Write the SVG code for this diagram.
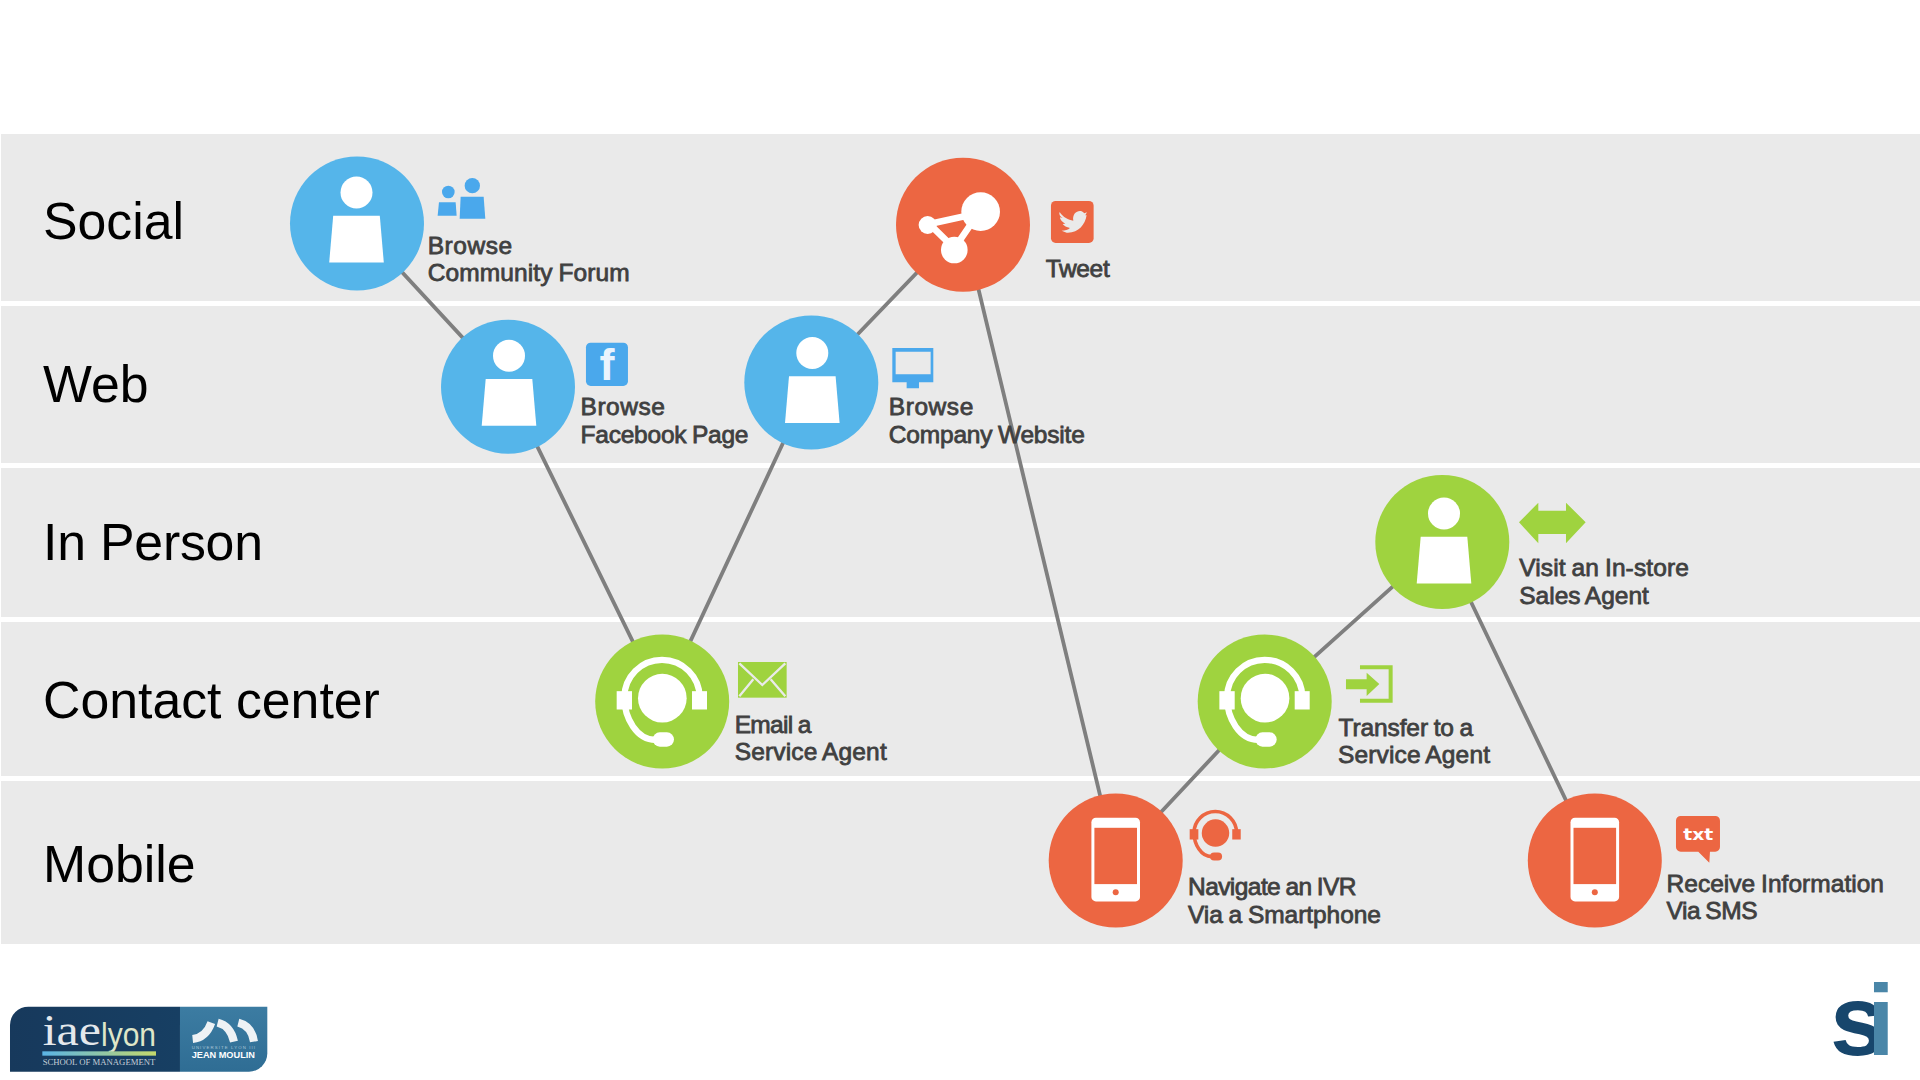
<svg xmlns="http://www.w3.org/2000/svg" width="1920" height="1080" viewBox="0 0 1920 1080">
<style>
.band{fill:#eaeaea}
.title{font-family:"Liberation Sans",Arial,sans-serif;font-size:51.8px;fill:#000}
.lbl{font-family:"Liberation Sans",Arial,sans-serif;font-size:24.5px;fill:#404040;stroke:#404040;stroke-width:.8;word-spacing:-1px}
.blue{fill:#55b5ea}.iblue{fill:#4aa8ec}.green{fill:#9fd33f}.orange{fill:#ec6642}
.conn{fill:none;stroke:#7f7f7f;stroke-width:3.8}
.hs{color:#fff}.hso{color:#ec6642}
</style>
<defs>
<g id="person" fill="#fff"><circle cx="0" cy="-31" r="16"/><path d="M-23.3-7.7H23.3L27.3 39H-27.3Z"/></g>
<g id="headset" transform="scale(.3333)">
<circle cx="1" cy="-10" r="73" fill="currentColor"/>
<path d="M-113-12A113 113 0 0 1 113-12M-113-12C-113 50-75 115-20 115" fill="none" stroke="currentColor" stroke-width="19"/>
<rect x="-136" y="-31" width="46" height="55" fill="currentColor"/><rect x="90" y="-31" width="45" height="55" fill="currentColor"/>
<path d="M-6.5 114H14.5" fill="none" stroke="currentColor" stroke-width="43" stroke-linecap="round"/>
</g>
<g id="phone"><rect x="-24.3" y="-42.7" width="48.6" height="83.6" rx="4.5" fill="#fff"/><rect x="-21.3" y="-32.7" width="42.6" height="56.3" fill="#ec6642"/><circle cx="0" cy="31.8" r="3" fill="#ec6642"/></g>
<linearGradient id="lg1" x1="0" x2="1"><stop offset="0" stop-color="#5ab4e6"/><stop offset="1" stop-color="#c4d96c"/></linearGradient>
<linearGradient id="lg2" x1="0" x2="1" y1="0" y2="0"><stop offset="0" stop-color="#17395c"/><stop offset="1" stop-color="#173f63"/></linearGradient>
<linearGradient id="lg3" x1="0" x2="0" y1="0" y2="1"><stop offset="0" stop-color="#3c7ca2"/><stop offset="1" stop-color="#2f6d94"/></linearGradient>
</defs>
<rect width="1920" height="1080" fill="#fff"/>
<g id="bands">
<rect class="band" x="1" y="134" width="1919" height="167"/>
<rect class="band" x="1" y="306" width="1919" height="157"/>
<rect class="band" x="1" y="468" width="1919" height="149"/>
<rect class="band" x="1" y="622" width="1919" height="154"/>
<rect class="band" x="1" y="781" width="1919" height="163"/>
<text class="title" x="43" y="239">Social</text>
<text class="title" x="43" y="402">Web</text>
<text class="title" x="43" y="560" textLength="220">In Person</text>
<text class="title" x="43" y="718">Contact center</text>
<text class="title" x="43" y="882">Mobile</text>
</g>
<g id="connectors">
<path class="conn" d="M357 223.5L508 386.7L662.2 701.5L811.3 382.5L963 224.7L1115.7 860.5L1264.7 701.5L1442.3 542L1594.8 860.5"/>
</g>
<g id="node-forum">
<circle class="blue" cx="357" cy="223.5" r="67"/><use href="#person" x="356.5" y="223.5"/>
<g transform="translate(270 130) scale(.3333)" class="iblue"><circle cx="535" cy="186" r="19"/><path d="M507 217H557L560 257H503Z"/><circle cx="607" cy="167" r="23"/><path d="M572 200H641L646 266H569Z"/></g>
<text class="lbl" x="427.7" y="253.8" textLength="84.5">Browse</text><text class="lbl" x="427.7" y="281.3" textLength="202">Community Forum</text>
</g>
<g id="node-facebook">
<circle class="blue" cx="508" cy="386.7" r="67"/><use href="#person" x="509" y="386.7"/>
<g transform="translate(270 130) scale(.3333)"><rect class="iblue" x="948" y="638" width="126" height="130" rx="14"/><text x="1011" y="750" text-anchor="middle" font-family="Liberation Sans,Arial,sans-serif" font-weight="bold" font-size="135" fill="#eaf4fd">f</text></g>
<text class="lbl" x="580.5" y="415.2" textLength="84.5">Browse</text><text class="lbl" x="580.5" y="442.8" textLength="168">Facebook Page</text>
</g>
<g id="node-website">
<circle class="blue" cx="811.3" cy="382.5" r="67"/><use href="#person" x="812.3" y="384"/>
<g transform="translate(720 130) scale(.3333)" class="iblue"><path fill-rule="evenodd" d="M517 654H640V757H597V775H560V757H517ZM527 665V733H632V665Z"/></g>
<text class="lbl" x="888.8" y="415.2" textLength="84.5">Browse</text><text class="lbl" x="888.8" y="442.8" textLength="196">Company Website</text>
</g>
<g id="node-tweet">
<circle class="orange" cx="963" cy="224.7" r="67"/>
<g transform="translate(720 130) scale(.3333)">
<g fill="#fff"><circle cx="782" cy="245" r="58"/><circle cx="623" cy="285" r="27"/><circle cx="703" cy="360" r="40"/></g>
<path d="M628 282L775 250L703 355Z" fill="none" stroke="#fff" stroke-width="20"/>
<rect class="orange" x="993" y="213" width="128" height="126" rx="14"/>
<path fill="#eaeaea" d="M1019 246C1030 262 1045 270 1060 272C1056 252 1072 240 1085 244C1089 246 1091 248 1093 250L1101 247L1096 256L1100 256C1095 285 1075 310 1040 308L1025 302C1035 302 1045 300 1050 294C1040 292 1032 288 1028 282L1036 281C1027 277 1020 268 1020 262L1028 264C1020 260 1016 252 1019 246Z"/>
</g>
<text class="lbl" x="1045.7" y="277" textLength="64">Tweet</text>
</g>
<g id="node-email">
<circle class="green" cx="662.2" cy="701.5" r="67"/><use href="#headset" class="hs" transform="translate(662 701.5)"/>
<g transform="translate(580 620) scale(.3333)"><rect class="green" x="474" y="126" width="146" height="107"/><path d="M478 130L547 195L616 130M478 229L520 178M616 229L572 178" fill="none" stroke="#eaeaea" stroke-width="7"/></g>
<text class="lbl" x="734.7" y="733" textLength="76.7">Email a</text><text class="lbl" x="734.7" y="760" textLength="152">Service Agent</text>
</g>
<g id="node-transfer">
<circle class="green" cx="1264.7" cy="701.5" r="67"/><use href="#headset" class="hs" transform="translate(1264.7 701.5)"/>
<g transform="translate(1180 620) scale(.3333)"><path d="M540 142H632V242H540" fill="none" stroke="#9fd33f" stroke-width="12"/><path class="green" d="M498 178H560V158L598 192L560 228V208H498Z"/></g>
<text class="lbl" x="1338.5" y="735.5" textLength="134.7">Transfer to a</text><text class="lbl" x="1338" y="762.8" textLength="152">Service Agent</text>
</g>
<g id="node-instore">
<circle class="green" cx="1442.3" cy="542" r="67"/><use href="#person" x="1444" y="544.5"/>
<g transform="translate(1480 470) scale(.3333)"><path class="green" d="M117 157L175 98V122H258V98L317 157L258 220V192H175V220Z"/></g>
<text class="lbl" x="1519.3" y="576" textLength="169.5">Visit an In-store</text><text class="lbl" x="1519.3" y="604" textLength="129.5">Sales Agent</text>
</g>
<g id="node-ivr">
<circle class="orange" cx="1115.7" cy="860.5" r="67"/><use href="#phone" x="1115.7" y="860.5"/>
<use href="#headset" class="hso" transform="translate(1215.3 835) scale(.565)"/>
<text class="lbl" x="1188" y="895" textLength="168.5">Navigate an IVR</text><text class="lbl" x="1188" y="922.7" textLength="193">Via a Smartphone</text>
</g>
<g id="node-sms">
<circle class="orange" cx="1594.8" cy="860.5" r="67"/><use href="#phone" x="1594.8" y="860.5"/>
<g transform="translate(1510 780) scale(.3333)"><path class="orange" d="M512 108H616A14 14 0 0 1 630 122V201A14 14 0 0 1 616 215H600L598 248L565 215H512A14 14 0 0 1 498 201V122A14 14 0 0 1 512 108Z"/><text x="520" y="180" font-family="DejaVu Sans,sans-serif" font-weight="bold" font-size="50" fill="#fff" textLength="90" lengthAdjust="spacingAndGlyphs">txt</text></g>
<text class="lbl" x="1666.5" y="891.5" textLength="217.5">Receive Information</text><text class="lbl" x="1666.5" y="919.2" textLength="91">Via SMS</text>
</g>
<g id="logo-iae" transform="translate(0 990) scale(.3333)">
<path d="M85 50H540V245H30V105A55 55 0 0 1 85 50Z" fill="url(#lg2)"/>
<path d="M540 50H802V190A55 55 0 0 1 747 245H540Z" fill="url(#lg3)"/>
<text x="128" y="165" font-family="Liberation Serif,serif" font-size="135" fill="#e4e8ec" textLength="175" lengthAdjust="spacingAndGlyphs">iae</text>
<text x="303" y="168" font-family="Liberation Sans,sans-serif" font-size="98" fill="#dfe6c8" textLength="165" lengthAdjust="spacingAndGlyphs">lyon</text>
<rect x="127" y="184" width="341" height="13" fill="url(#lg1)"/>
<text x="128" y="224" font-family="Liberation Serif,serif" font-size="25" fill="#c5ced8" textLength="338" lengthAdjust="spacingAndGlyphs">SCHOOL OF MANAGEMENT</text>
<path d="M578 147Q618 143 634 98M653 98Q692 108 702 155M715 98Q755 108 762 155" fill="none" stroke="#eef2f5" stroke-width="24"/>
<text x="575" y="178" font-family="Liberation Sans,sans-serif" font-size="13" fill="#a9c6d8" textLength="190">UNIVERSITE LYON III</text>
<text x="575" y="204" font-family="Liberation Sans,sans-serif" font-weight="bold" font-size="25" fill="#fff" textLength="190" lengthAdjust="spacingAndGlyphs">JEAN MOULIN</text>
</g>
<g id="logo-si">
<text x="1830" y="1055" font-family="Liberation Sans,sans-serif" font-weight="bold" font-size="100" fill="#17466c"><tspan>s</tspan><tspan dx="-18.6" fill="#4a86a8">i</tspan></text>
</g>
</svg>
